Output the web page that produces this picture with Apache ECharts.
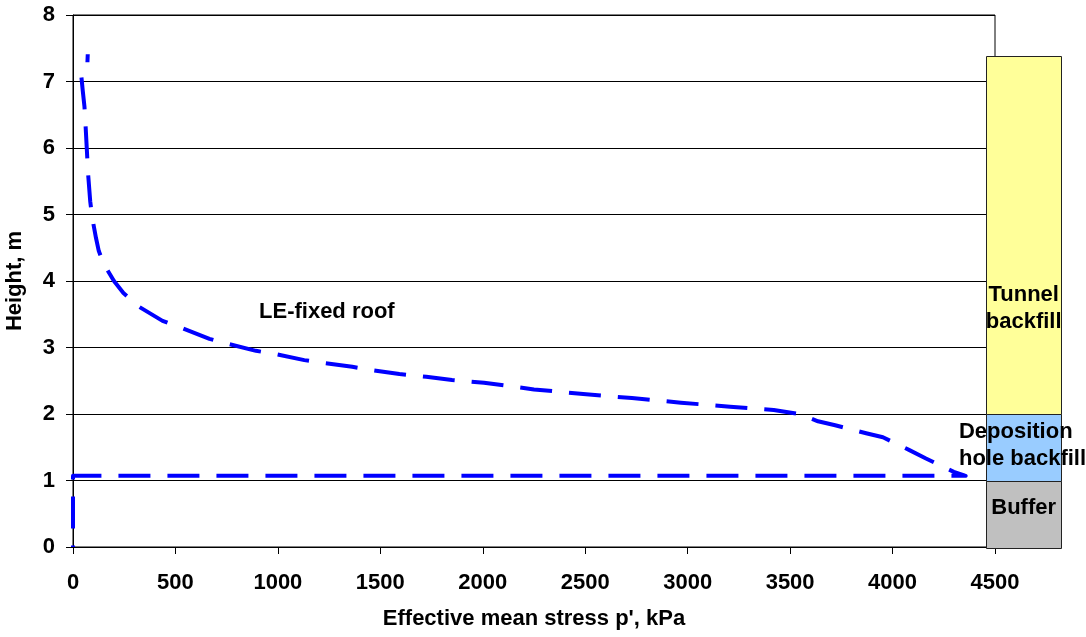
<!DOCTYPE html>
<html>
<head>
<meta charset="utf-8">
<title>Effective mean stress profile</title>
<script src="https://cdn.jsdelivr.net/npm/echarts@6/dist/echarts.min.js"></script>
<style>
  html, body { margin: 0; padding: 0; background: #fff; }
  #chart { width: 1086px; height: 637px; }
</style>
</head>
<body>
<div id="chart"></div>
<script>
// Stress profile (kPa) against height (m), traced from the roof down to the floor
var stressKPa = [
  72, 70, 40, 48, 56, 62, 68, 74, 84, 92, 100, 112, 126, 145, 165, 200, 246,
  324, 437, 534, 666, 763, 893, 991, 1129, 1217, 1363, 1461, 1593, 1724, 1850,
  2006, 2250, 2490, 2728, 2967, 3207, 3420, 3546, 3636, 3720, 3871, 3953, 4080,
  4163, 4299, 4357, 0, 0
];
var heightM = [
  7.41, 7.26, 7.10, 6.85, 6.62, 6.30, 5.95, 5.60, 5.20, 5.00, 4.85, 4.65, 4.45,
  4.30, 4.18, 4.00, 3.82, 3.61, 3.40, 3.29, 3.13, 3.05, 2.95, 2.90, 2.81, 2.77,
  2.71, 2.66, 2.60, 2.56, 2.51, 2.47, 2.37, 2.30, 2.24, 2.17, 2.11, 2.06, 2.00,
  1.89, 1.83, 1.71, 1.65, 1.46, 1.33, 1.13, 1.07, 1.07, 0
];

// Material layers of the column, bottom to top
var layerNames = ['Buffer', 'Deposition\nhole backfill', 'Tunnel\nbackfill'];
var layerBottoms = [0, 1, 2];
var layerTops = [1, 2, 7.38];
var layerColors = ['#C0C0C0', '#99CCFF', '#FFFF99'];

var seriesName = 'LE-fixed roof';
var xTicks = { min: 0, max: 4500, step: 500 };
var yTicks = { min: 0, max: 8, step: 1 };

var FONT = '"Liberation Sans", Arial, sans-serif';

var curve = stressKPa.map(function (x, i) { return [x, heightM[i]]; });
var layers = layerNames.map(function (n, i) {
  return { value: [layerBottoms[i], layerTops[i]], name: n, color: layerColors[i] };
});

// Column drawn to the right of the 4500 kPa edge
var columnLeft = 4457, columnRight = 4822;
// Label anchors inside the column: [x, y, align]
var layerLabelAnchor = [
  [4640, 0.59, 'center'],
  [4324, 1.53, 'left'],
  [4640, 3.59, 'center']
];

var plainNumber = function (v) { return String(v); };

var chart = echarts.init(document.getElementById('chart'), null, { renderer: 'canvas' });

chart.setOption({
  animation: false,
  backgroundColor: '#fff',
  grid: {
    left: 73, right: 91, top: 15, bottom: 90,
    outerBoundsMode: 'none', containLabel: false,
    show: true, borderColor: '#000', borderWidth: 1, backgroundColor: 'transparent'
  },
  xAxis: {
    type: 'value',
    min: xTicks.min, max: xTicks.max, interval: xTicks.step,
    name: "Effective mean stress p', kPa",
    nameLocation: 'middle', nameGap: 61,
    nameTextStyle: { fontFamily: FONT, fontWeight: 'bold', fontSize: 22, color: '#000' },
    axisLine: { show: true, lineStyle: { color: '#000', width: 1 } },
    axisTick: { show: true, length: 7, lineStyle: { color: '#000' } },
    axisLabel: { margin: 25, formatter: plainNumber, fontFamily: FONT, fontWeight: 'bold', fontSize: 22, color: '#000' },
    splitLine: { show: false }
  },
  yAxis: {
    type: 'value',
    min: yTicks.min, max: yTicks.max, interval: yTicks.step,
    name: 'Height, m',
    nameLocation: 'middle', nameGap: 47, nameRotate: 90,
    nameTextStyle: { fontFamily: FONT, fontWeight: 'bold', fontSize: 22, color: '#000' },
    axisLine: { show: true, lineStyle: { color: '#000', width: 1 } },
    axisTick: { show: true, length: 7, lineStyle: { color: '#000' } },
    axisLabel: { margin: 18, formatter: plainNumber, fontFamily: FONT, fontWeight: 'bold', fontSize: 22, color: '#000' },
    splitLine: { show: true, lineStyle: { color: '#000', width: 1 } }
  },
  series: [
    {
      name: seriesName,
      type: 'line',
      data: curve,
      showSymbol: false,
      symbol: 'none',
      clip: false,
      z: 3,
      lineStyle: { color: '#0000FF', width: 4, type: [32, 17], dashOffset: 24, cap: 'butt', join: 'round' }
    },
    {
      name: 'layers',
      type: 'custom',
      clip: false,
      z: 4,
      data: layers,
      renderItem: function (params, api) {
        var i = params.dataIndex;
        var lo = api.value(0), hi = api.value(1);
        var p0 = api.coord([columnLeft, hi]);
        var p1 = api.coord([columnRight, lo]);
        var a = layerLabelAnchor[i];
        var lp = api.coord([a[0], a[1]]);
        return {
          type: 'group',
          children: [
            {
              type: 'rect',
              shape: { x: Math.round(p0[0]) + 0.5, y: Math.round(p0[1]) + 0.5,
                       width: Math.round(p1[0] - p0[0]), height: Math.round(p1[1] - p0[1]) },
              style: { fill: layers[i].color, stroke: '#222', lineWidth: 1 }
            },
            {
              type: 'text',
              z2: 10,
              style: {
                x: lp[0], y: lp[1],
                text: layers[i].name,
                fill: '#000',
                font: 'bold 22px ' + FONT,
                align: a[2],
                verticalAlign: 'middle',
                lineHeight: 27
              }
            }
          ]
        };
      }
    }
  ]
});

// Series name written beside the curve
var namePos = chart.convertToPixel({ xAxisIndex: 0, yAxisIndex: 0 }, [1239, 3.54]);
chart.setOption({
  graphic: [{
    type: 'text',
    x: namePos[0], y: namePos[1],
    style: {
      text: seriesName,
      fill: '#000',
      font: 'bold 22px ' + FONT,
      align: 'center',
      verticalAlign: 'middle'
    }
  }]
});
</script>
</body>
</html>
